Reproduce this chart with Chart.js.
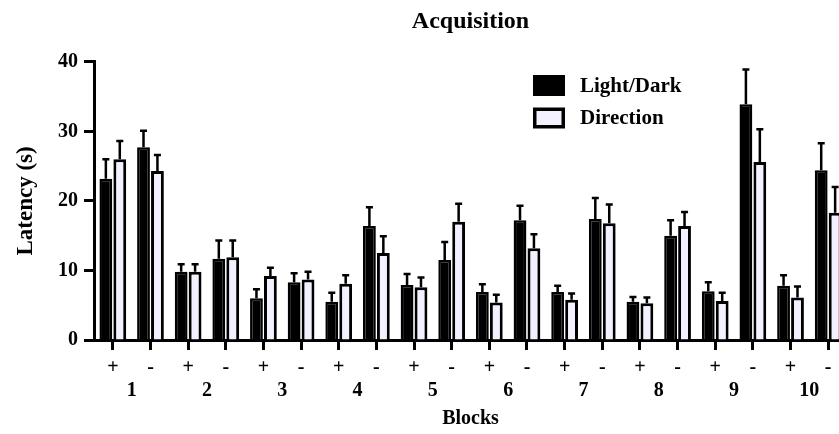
<!DOCTYPE html>
<html>
<head>
<meta charset="utf-8">
<script src="https://cdn.jsdelivr.net/npm/chart.js@4/dist/chart.umd.min.js"></script>
<style>
  html, body { margin: 0; padding: 0; background: #fff; overflow: hidden; }
  #wrap { width: 862px; height: 434px; position: relative; }
</style>
</head>
<body>
<div id="wrap"><canvas id="c"></canvas></div>
<script>
// ---- data ----
const cueLabels = ['+','-','+','-','+','-','+','-','+','-','+','-','+','-','+','-','+','-','+','-'];
const blockLabels = ['1','2','3','4','5','6','7','8','9','10'];
const seriesNames = ['Light/Dark', 'Direction'];
const lightDarkMean = [23.2, 27.7, 9.8, 11.7, 6.0, 8.3, 5.5, 16.4, 7.9, 11.5, 6.9, 17.2, 6.9, 17.4, 5.5, 15.0, 7.0, 33.9, 7.8, 24.4];
const lightDarkErr  = [2.8, 2.4, 1.1, 2.6, 1.3, 1.3, 1.3, 2.7, 1.6, 2.6, 1.1, 2.1, 0.9, 3.0, 0.7, 2.2, 1.3, 5.0, 1.5, 3.9];
const directionMean = [26.0, 24.3, 9.8, 11.9, 9.2, 8.7, 8.1, 12.5, 7.6, 17.0, 5.4, 13.2, 5.8, 16.8, 5.3, 16.4, 5.6, 25.6, 6.1, 18.3];
const directionErr  = [2.6, 2.3, 1.1, 2.4, 1.2, 1.1, 1.2, 2.4, 1.4, 2.6, 1.1, 2.0, 0.9, 2.7, 0.8, 2.0, 1.2, 4.7, 1.6, 3.7];
const yTicks = [0, 10, 20, 30, 40];

const FONT = '"Liberation Serif", "Times New Roman", serif';
const errs = [lightDarkErr, directionErr];
const fills = ['#000000', '#f3f1ff'];

const errorBarPlugin = {
  id: 'errorBars',
  afterDatasetsDraw(chart) {
    const ctx = chart.ctx;
    const ys = chart.scales.y;
    ctx.save();
    ctx.strokeStyle = '#000';
    ctx.lineWidth = 2.5;
    chart.data.datasets.forEach((ds, di) => {
      const meta = chart.getDatasetMeta(di);
      meta.data.forEach((bar, j) => {
        const top = ys.getPixelForValue(ds.data[j] + errs[di][j]);
        ctx.beginPath();
        ctx.moveTo(bar.x, bar.y);
        ctx.lineTo(bar.x, top);
        ctx.moveTo(bar.x - 3.5, top);
        ctx.lineTo(bar.x + 3.5, top);
        ctx.stroke();
      });
    });
    ctx.restore();
  }
};

const legendPlugin = {
  id: 'customLegend',
  afterDraw(chart) {
    const ctx = chart.ctx;
    ctx.save();
    ctx.font = 'bold 21px ' + FONT;
    ctx.textBaseline = 'middle';
    ctx.textAlign = 'left';
    chart.data.datasets.forEach((ds, i) => {
      const bx = 533, by = 75 + i * 32.5, bw = 32, bh = 21;
      ctx.fillStyle = '#000';
      ctx.fillRect(bx, by, bw, bh);
      if (i === 1) {
        ctx.fillStyle = fills[1];
        ctx.fillRect(bx + 3.5, by + 3.5, bw - 7, bh - 7);
      }
      ctx.fillStyle = '#000';
      ctx.fillText(ds.label, 580, by + bh / 2 + 1);
    });
    ctx.restore();
  }
};

new Chart(document.getElementById('c'), {
  type: 'bar',
  data: {
    labels: cueLabels,
    datasets: [
      { label: seriesNames[0], data: lightDarkMean, backgroundColor: fills[0], borderColor: '#000', borderWidth: 2.5, xAxisID: 'x' },
      { label: seriesNames[1], data: directionMean, backgroundColor: fills[1], borderColor: '#000', borderWidth: 3, xAxisID: 'x' }
    ]
  },
  options: {
    responsive: true,
    maintainAspectRatio: false,
    animation: false,
    categoryPercentage: 0.74,
    barPercentage: 0.92,
    layout: { padding: { left: 4, right: 15, top: 0, bottom: 0 } },
    plugins: {
      legend: { display: false },
      tooltip: { enabled: false },
      title: {
        display: true,
        text: 'Acquisition',
        fullSize: false,
        color: '#000',
        font: { family: FONT, size: 24, weight: 'bold' },
        padding: { top: 7, bottom: 26 }
      }
    },
    scales: {
      x: {
        type: 'category',
        position: 'bottom',
        offset: true,
        grid: { display: true, drawOnChartArea: false, drawTicks: true, offset: false, tickLength: 10, tickWidth: 3, tickColor: '#000' },
        border: { display: true, width: 3, color: '#000' },
        ticks: { color: '#000', padding: 6, maxRotation: 0, autoSkip: false, font: { family: FONT, size: 20, weight: 'bold' } },
        afterFit(s) { s.height = 38; }
      },
      x2: {
        type: 'category',
        position: 'bottom',
        labels: blockLabels,
        offset: true,
        grid: { display: false, drawTicks: false },
        border: { display: false },
        ticks: { color: '#000', padding: 1, maxRotation: 0, autoSkip: false, font: { family: FONT, size: 20, weight: 'bold' } },
        title: { display: true, text: 'Blocks', color: '#000', padding: { top: 2, bottom: 3 }, font: { family: FONT, size: 20, weight: 'bold' } },
        afterFit(s) { s.height = 56; }
      },
      y: {
        min: 0,
        max: 40,
        afterBuildTicks(s) { s.ticks = yTicks.map(v => ({ value: v })); },
        grid: { display: true, drawOnChartArea: false, drawTicks: true, tickLength: 10, tickWidth: 3, tickColor: '#000' },
        border: { display: true, width: 3, color: '#000' },
        ticks: { color: '#000', padding: 6, font: { family: FONT, size: 20, weight: 'bold' } },
        title: { display: true, text: 'Latency (s)', color: '#000', padding: { top: 8, bottom: 4 }, font: { family: FONT, size: 23, weight: 'bold' } },
        afterFit(s) { s.width = 90; }
      }
    }
  },
  plugins: [errorBarPlugin, legendPlugin]
});
</script>
</body>
</html>
